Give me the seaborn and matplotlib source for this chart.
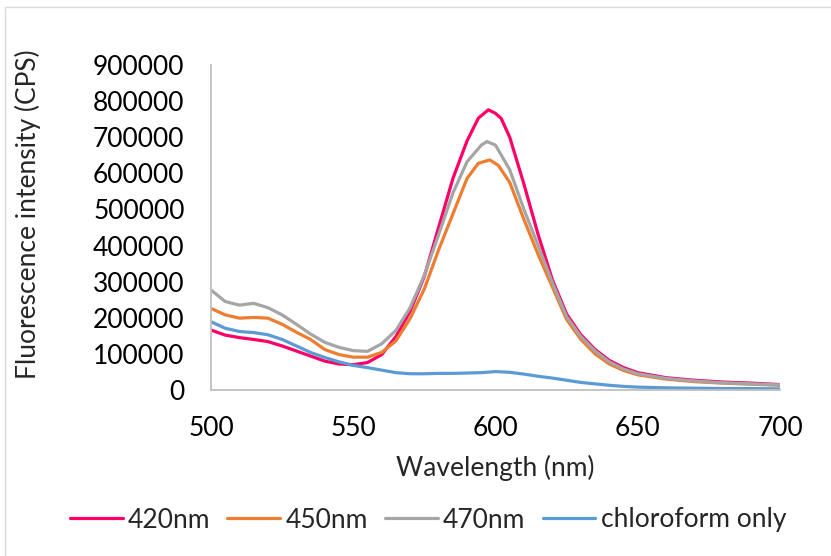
import numpy as np
import pandas as pd
import matplotlib
matplotlib.use("Agg")
import matplotlib.pyplot as plt
import seaborn as sns
from matplotlib.patches import Rectangle

# Emission spectra (wavelength in nm, intensity in CPS)
wl_420 = [500, 505, 510, 515, 520, 525, 530, 535, 540, 545, 550, 555, 560, 565, 570,
          575, 580, 585, 590, 594, 597.5, 600, 602, 605, 610, 615, 620, 625, 630, 635,
          640, 645, 650, 660, 670, 680, 690, 700]
int_420 = [166000, 152000, 145000, 140000, 134000, 122000, 108000, 94000, 80000, 72000,
           70000, 76000, 98000, 148000, 218000, 315000, 450000, 585000, 690000, 753000,
           776000, 766000, 752000, 700000, 570000, 430000, 305000, 210000, 153000, 112000,
           82000, 62000, 48000, 34000, 27000, 22000, 19000, 15000]

wl_450 = [500, 505, 510, 515, 520, 525, 530, 535, 540, 545, 550, 555, 560, 565, 570,
          575, 580, 585, 590, 594, 598, 601, 605, 610, 615, 620, 625, 630, 635, 640,
          645, 650, 660, 670, 680, 690, 700]
int_450 = [226000, 208000, 199000, 201000, 199000, 182000, 160000, 140000, 112000, 98000,
           91000, 91000, 104000, 136000, 198000, 280000, 388000, 487000, 586000, 628000,
           637000, 622000, 575000, 472000, 375000, 285000, 195000, 140000, 100000, 72000,
           54000, 42000, 30000, 23000, 19000, 16000, 13000]

wl_470 = [500, 505, 510, 515, 520, 525, 530, 535, 540, 545, 550, 555, 560, 565, 570,
          575, 580, 585, 590, 595, 597, 600, 605, 610, 615, 620, 625, 630, 635, 640,
          645, 650, 660, 670, 680, 690, 700]
int_470 = [277000, 245000, 235000, 240000, 228000, 208000, 182000, 155000, 132000, 118000,
           109000, 107000, 128000, 165000, 228000, 318000, 430000, 545000, 632000, 678000,
           688000, 678000, 610000, 500000, 400000, 297000, 203000, 148000, 108000, 78000,
           58000, 45000, 32000, 25000, 20000, 17000, 14000]

wl_chl = [500, 505, 510, 515, 520, 525, 530, 535, 540, 545, 550, 555, 560, 565, 570,
          575, 580, 585, 590, 595, 600, 605, 610, 615, 620, 625, 630, 635, 640, 645,
          650, 660, 670, 680, 690, 700]
int_chl = [189000, 171000, 162000, 159000, 153000, 140000, 122000, 104000, 90000, 78000,
           68000, 62000, 55000, 48000, 45000, 45000, 46000, 46000, 47000, 48000,
           51000, 49000, 44000, 38000, 33000, 27000, 21000, 17000, 13000, 10000,
           8000, 6000, 5000, 4000, 4000, 3000]

series_names = ["420nm", "450nm", "470nm", "chloroform only"]
series_colors = ["#FF0066", "#ED7D31", "#A5A5A5", "#5B9BD5"]

frames = []
for name, wl, inten in zip(series_names,
                           [wl_420, wl_450, wl_470, wl_chl],
                           [int_420, int_450, int_470, int_chl]):
    frames.append(pd.DataFrame({"Wavelength": wl, "Intensity": inten, "Series": name}))
df = pd.concat(frames, ignore_index=True)

sns.set_style("white")
plt.rcParams["font.family"] = ["Lato", "DejaVu Sans"]
FS = 19

fig = plt.figure(figsize=(8.31, 5.56), dpi=100)
ax = fig.add_axes([211 / 831, 1 - 390 / 556, 569 / 831, 325 / 556])

sns.lineplot(data=df, x="Wavelength", y="Intensity", hue="Series",
             hue_order=series_names, palette=series_colors, linewidth=2.3,
             ax=ax, legend=True, estimator=None, sort=True)

ax.set_xlim(500, 700)
ax.set_ylim(0, 900000)
ax.set_xticks([500, 550, 600, 650, 700])
ax.set_yticks(np.arange(0, 900001, 100000))
ax.set_yticklabels([str(v) for v in range(0, 900001, 100000)])
ax.tick_params(axis="both", length=0, labelsize=FS, colors="#000000")
ax.tick_params(axis="x", pad=19)
ax.tick_params(axis="y", pad=19)

for side in ["top", "right"]:
    ax.spines[side].set_visible(False)
for side in ["left", "bottom"]:
    ax.spines[side].set_color("#BFBFBF")
    ax.spines[side].set_linewidth(1.3)

ax.set_xlabel("Wavelength (nm)", fontsize=FS, va="center")
ax.set_ylabel("Fluorescence intensity (CPS)", fontsize=FS, va="center")
ax.xaxis.set_label_coords((495 - 211) / 569, (390 - 468) / 325)
ax.yaxis.set_label_coords((28 - 211) / 569, (390 - 214) / 325)

handles, labels = ax.get_legend_handles_labels()
ax.legend(handles, labels, loc="center", bbox_to_anchor=(428 / 831, 1 - 520 / 556),
          bbox_transform=fig.transFigure, ncol=4, frameon=False, fontsize=FS,
          handlelength=2.0, handletextpad=0.2, columnspacing=0.65)

# Chart-area frame
fig.patches.append(Rectangle((5 / 831, -0.1), 1.2, 1 - 7 / 556 + 0.1,
                             transform=fig.transFigure, fill=False,
                             edgecolor="#D9D9D9", linewidth=1.0))

fig.savefig("out.png", dpi=100, facecolor="white")
